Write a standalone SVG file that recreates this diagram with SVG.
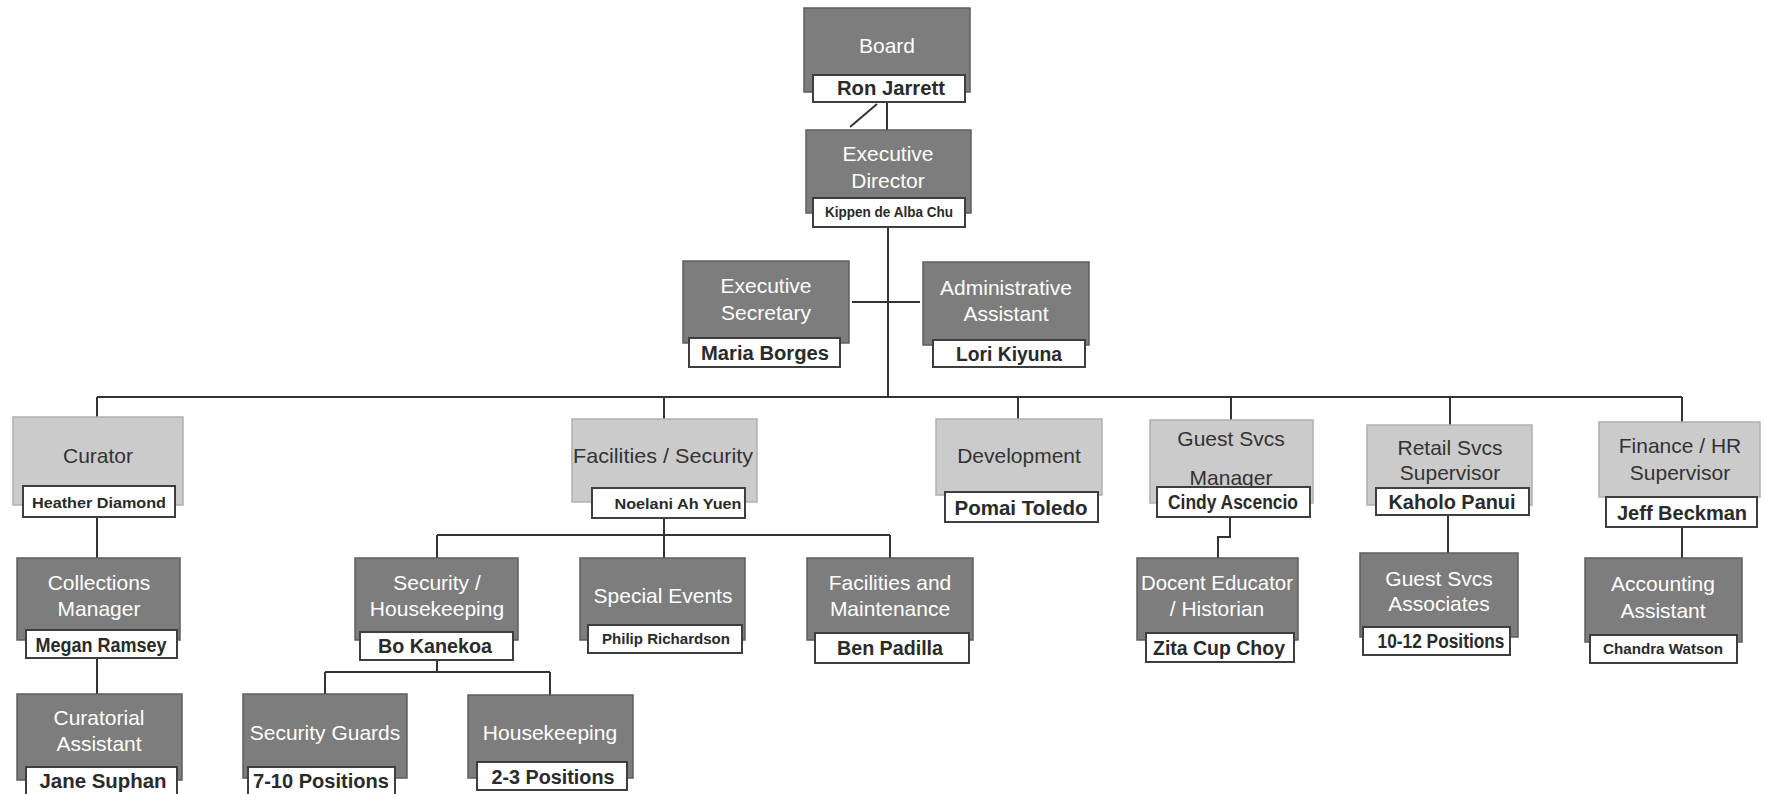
<svg xmlns="http://www.w3.org/2000/svg" width="1765" height="794" viewBox="0 0 1765 794">
<style>
.bg{fill:#ffffff}
.dk{fill:#7d7d7d;stroke:#5e5e5e;stroke-width:1.5}
.lt{fill:#cbcbcb;stroke:#b0b0b0;stroke-width:1.5}
.nm{fill:#ffffff;stroke:#3e3e3e;stroke-width:2}
.t{font-family:"Liberation Sans",Arial,sans-serif;font-size:21px;text-anchor:middle;dominant-baseline:central}
.tw{fill:#ffffff}
.tk{fill:#333333}
.n{font-family:"Liberation Sans",Arial,sans-serif;font-size:20px;font-weight:bold;fill:#2a2a2a;text-anchor:middle;dominant-baseline:central}
.ns{font-family:"Liberation Sans",Arial,sans-serif;font-size:14px;font-weight:bold;fill:#2a2a2a;text-anchor:middle;dominant-baseline:central}
.c{fill:none;stroke:#333333;stroke-width:2}
</style>
<rect class="bg" x="0" y="0" width="1765" height="794"/>
<g id="connectors">
<path class="c" d="M887 102V130"/>
<path class="c" d="M877 104L850 127"/>
<path class="c" d="M888 227V397"/>
<path class="c" d="M852 302H920"/>
<path class="c" d="M97 397H1682"/>
<path class="c" d="M97 397V417M664 397V419M1018 397V419M1231 397V420M1450 397V425M1682 397V422"/>
<path class="c" d="M97 517V558M97 658V694"/>
<path class="c" d="M664 518V535M437 535H890M437 535V558M664 535V558M890 535V558"/>
<path class="c" d="M437 660V672M325 672H550M325 672V694M550 672V695"/>
<path class="c" d="M1230 517V537H1218V558"/>
<path class="c" d="M1448 515V553"/>
<path class="c" d="M1682 527V558"/>
</g>
<g id="board">
<rect class="dk" x="804" y="8" width="166" height="84"/>
<text class="t tw" x="887" y="45">Board</text>
<rect class="nm" x="813" y="75" width="152" height="27"/>
<text class="n" x="891" y="88" textLength="108" lengthAdjust="spacingAndGlyphs">Ron Jarrett</text>
</g>
<g id="executive-director">
<rect class="dk" x="806" y="130" width="165" height="83"/>
<text class="t tw" x="888" y="153">Executive</text>
<text class="t tw" x="888" y="180">Director</text>
<rect class="nm" x="813" y="198" width="152" height="29"/>
<text class="ns" x="889" y="212" font-size="12" textLength="128" lengthAdjust="spacingAndGlyphs">Kippen de Alba Chu</text>
</g>
<g id="executive-secretary">
<rect class="dk" x="683" y="261" width="166" height="82"/>
<text class="t tw" x="766" y="285">Executive</text>
<text class="t tw" x="766" y="312">Secretary</text>
<rect class="nm" x="689" y="338" width="151" height="29"/>
<text class="n" x="765" y="353" textLength="128" lengthAdjust="spacingAndGlyphs">Maria Borges</text>
</g>
<g id="administrative-assistant">
<rect class="dk" x="923" y="262" width="166" height="83"/>
<text class="t tw" x="1006" y="287">Administrative</text>
<text class="t tw" x="1006" y="313">Assistant</text>
<rect class="nm" x="933" y="340" width="152" height="27"/>
<text class="n" x="1009" y="354" textLength="106" lengthAdjust="spacingAndGlyphs">Lori Kiyuna</text>
</g>
<g id="curator">
<rect class="lt" x="13" y="417" width="170" height="88"/>
<text class="t tk" x="98" y="455">Curator</text>
<rect class="nm" x="23" y="486" width="152" height="31"/>
<text class="ns" x="99" y="503" textLength="134" lengthAdjust="spacingAndGlyphs">Heather Diamond</text>
</g>
<g id="facilities-security">
<rect class="lt" x="572" y="419" width="185" height="83"/>
<text class="t tk" x="663" y="455" textLength="180" lengthAdjust="spacingAndGlyphs">Facilities / Security</text>
<rect class="nm" x="592" y="488" width="153" height="30"/>
<text class="ns" x="678" y="504" textLength="127" lengthAdjust="spacingAndGlyphs">Noelani Ah Yuen</text>
</g>
<g id="development">
<rect class="lt" x="936" y="419" width="166" height="76"/>
<text class="t tk" x="1019" y="455">Development</text>
<rect class="nm" x="945" y="492" width="153" height="30"/>
<text class="n" x="1021" y="508" textLength="133" lengthAdjust="spacingAndGlyphs">Pomai Toledo</text>
</g>
<g id="guest-svcs-manager">
<rect class="lt" x="1150" y="420" width="163" height="83"/>
<text class="t tk" x="1231" y="438">Guest Svcs</text>
<text class="t tk" x="1231" y="477">Manager</text>
<rect class="nm" x="1157" y="487" width="153" height="30"/>
<text class="n" x="1233" y="502" font-size="18" textLength="130" lengthAdjust="spacingAndGlyphs">Cindy Ascencio</text>
</g>
<g id="retail-svcs-supervisor">
<rect class="lt" x="1367" y="425" width="165" height="80"/>
<text class="t tk" x="1450" y="447">Retail Svcs</text>
<text class="t tk" x="1450" y="472">Supervisor</text>
<rect class="nm" x="1376" y="488" width="153" height="27"/>
<text class="n" x="1452" y="502" textLength="127" lengthAdjust="spacingAndGlyphs">Kaholo Panui</text>
</g>
<g id="finance-hr-supervisor">
<rect class="lt" x="1599" y="422" width="161" height="75"/>
<text class="t tk" x="1680" y="445">Finance / HR</text>
<text class="t tk" x="1680" y="472">Supervisor</text>
<rect class="nm" x="1606" y="497" width="151" height="30"/>
<text class="n" x="1682" y="513" textLength="130" lengthAdjust="spacingAndGlyphs">Jeff Beckman</text>
</g>
<g id="collections-manager">
<rect class="dk" x="17" y="558" width="163" height="82"/>
<text class="t tw" x="99" y="582">Collections</text>
<text class="t tw" x="99" y="608">Manager</text>
<rect class="nm" x="26" y="630" width="151" height="28"/>
<text class="n" x="101" y="645" textLength="131" lengthAdjust="spacingAndGlyphs">Megan Ramsey</text>
</g>
<g id="curatorial-assistant">
<rect class="dk" x="17" y="694" width="165" height="86"/>
<text class="t tw" x="99" y="717">Curatorial</text>
<text class="t tw" x="99" y="743">Assistant</text>
<rect class="nm" x="26" y="767" width="151" height="30"/>
<text class="n" x="103" y="781" textLength="127" lengthAdjust="spacingAndGlyphs">Jane Suphan</text>
</g>
<g id="security-housekeeping">
<rect class="dk" x="355" y="558" width="163" height="82"/>
<text class="t tw" x="437" y="582">Security /</text>
<text class="t tw" x="437" y="608">Housekeeping</text>
<rect class="nm" x="360" y="632" width="153" height="28"/>
<text class="n" x="435" y="646" textLength="114" lengthAdjust="spacingAndGlyphs">Bo Kanekoa</text>
</g>
<g id="special-events">
<rect class="dk" x="580" y="558" width="165" height="82"/>
<text class="t tw" x="663" y="595">Special Events</text>
<rect class="nm" x="588" y="625" width="154" height="28"/>
<text class="ns" x="666" y="639" textLength="128" lengthAdjust="spacingAndGlyphs">Philip Richardson</text>
</g>
<g id="facilities-maintenance">
<rect class="dk" x="807" y="558" width="166" height="82"/>
<text class="t tw" x="890" y="582">Facilities and</text>
<text class="t tw" x="890" y="608">Maintenance</text>
<rect class="nm" x="815" y="633" width="154" height="30"/>
<text class="n" x="890" y="648" textLength="106" lengthAdjust="spacingAndGlyphs">Ben Padilla</text>
</g>
<g id="docent-educator">
<rect class="dk" x="1137" y="558" width="161" height="82"/>
<text class="t tw" x="1217" y="582" textLength="152" lengthAdjust="spacingAndGlyphs">Docent Educator</text>
<text class="t tw" x="1217" y="608">/ Historian</text>
<rect class="nm" x="1146" y="633" width="148" height="29"/>
<text class="n" x="1219" y="648" textLength="132" lengthAdjust="spacingAndGlyphs">Zita Cup Choy</text>
</g>
<g id="guest-svcs-associates">
<rect class="dk" x="1360" y="553" width="158" height="84"/>
<text class="t tw" x="1439" y="578">Guest Svcs</text>
<text class="t tw" x="1439" y="603">Associates</text>
<rect class="nm" x="1363" y="627" width="147" height="28"/>
<text class="n" x="1441" y="641" textLength="127" lengthAdjust="spacingAndGlyphs">10-12 Positions</text>
</g>
<g id="accounting-assistant">
<rect class="dk" x="1585" y="558" width="157" height="84"/>
<text class="t tw" x="1663" y="583">Accounting</text>
<text class="t tw" x="1663" y="610">Assistant</text>
<rect class="nm" x="1590" y="635" width="147" height="28"/>
<text class="ns" x="1663" y="649" textLength="120" lengthAdjust="spacingAndGlyphs">Chandra Watson</text>
</g>
<g id="security-guards">
<rect class="dk" x="243" y="694" width="164" height="84"/>
<text class="t tw" x="325" y="732">Security Guards</text>
<rect class="nm" x="248" y="767" width="147" height="30"/>
<text class="n" x="321" y="781" textLength="136" lengthAdjust="spacingAndGlyphs">7-10 Positions</text>
</g>
<g id="housekeeping">
<rect class="dk" x="468" y="695" width="165" height="83"/>
<text class="t tw" x="550" y="732">Housekeeping</text>
<rect class="nm" x="477" y="762" width="150" height="28"/>
<text class="n" x="553" y="777" textLength="123" lengthAdjust="spacingAndGlyphs">2-3 Positions</text>
</g>
</svg>
